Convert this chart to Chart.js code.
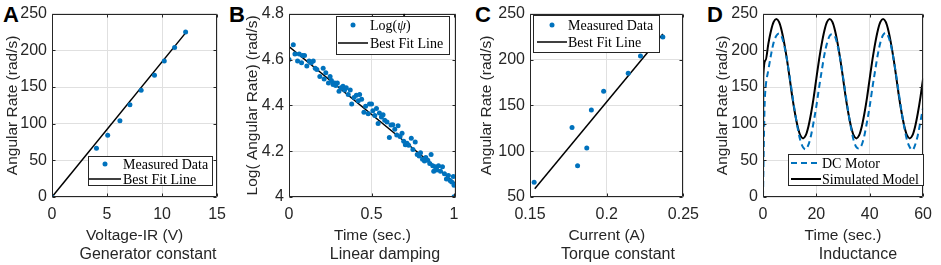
<!DOCTYPE html>
<html>
<head>
<meta charset="utf-8">
<script src="https://cdn.jsdelivr.net/npm/chart.js@4.4.1/dist/chart.umd.min.js"></script>
<style>
  body { margin: 0; background: #fff; width: 941px; height: 265px; position: relative; overflow: hidden;
         font-family: "Liberation Sans", Arial, sans-serif; color: #262626; }
  canvas { position: absolute; top: 0; }
  .letter { position: absolute; top: 4px; font: bold 22px/22px "Liberation Sans", Arial, sans-serif; color: #000; }
  .caption { position: absolute; top: 246px; font-size: 16px; line-height: 16px; white-space: nowrap; transform: translateX(-50%); }
</style>
</head>
<body>
<div class="letter" style="left:3px">A</div>
<div class="letter" style="left:229px">B</div>
<div class="letter" style="left:475px">C</div>
<div class="letter" style="left:707px">D</div>

<canvas id="chartGen" width="235" height="265" style="left:0px"></canvas>
<canvas id="chartDamp" width="232" height="265" style="left:240px"></canvas>
<canvas id="chartTorq" width="234" height="265" style="left:474px"></canvas>
<canvas id="chartInd" width="235" height="265" style="left:706px"></canvas>

<div class="caption" style="left:148px">Generator constant</div>
<div class="caption" style="left:385px">Linear damping</div>
<div class="caption" style="left:618px">Torque constant</div>
<div class="caption" style="left:858px">Inductance</div>

<script>
const SANS = '"Liberation Sans", Arial, sans-serif';
const SERIF = '"Liberation Serif", "DejaVu Serif", serif';
const INK = '#262626';
const BLUE = '#0072BD';

// A - generator constant
const genVolt = [0, 4.04, 5.06, 6.17, 7.08, 8.10, 9.31, 10.2, 11.14, 12.14];
const genRate = [0, 66.6, 84.4, 103.9, 126, 145.6, 166, 185.6, 204, 225];
const genFitVolt = [0, 12.14];
const genFitRate = [0, 224];
const genXTicks = [0, 5, 10, 15];
const genYTicks = [0, 50, 100, 150, 200, 250];

// B - linear damping
const dampTime = [0.000,0.026,0.036,0.052,0.062,0.076,0.082,0.094,0.108,0.122,
  0.135,0.147,0.159,0.169,0.187,0.207,0.213,0.223,0.239,0.249,
  0.257,0.267,0.277,0.283,0.293,0.303,0.315,0.327,0.337,0.347,
  0.359,0.371,0.380,0.394,0.408,0.420,0.428,0.440,0.454,0.464,
  0.480,0.488,0.500,0.508,0.520,0.530,0.540,0.548,0.560,0.570,
  0.580,0.594,0.608,0.618,0.629,0.641,0.653,0.661,0.673,0.685,
  0.695,0.705,0.715,0.725,0.741,0.751,0.765,0.777,0.789,0.797,
  0.809,0.821,0.829,0.841,0.853,0.861,0.871,0.877,0.886,0.896,
  0.906,0.918,0.930,0.942,0.954,0.966,0.976,0.986,0.996,1.000,
  1.010,1.000,1.016];
const dampLog = [4.600,4.665,4.625,4.594,4.625,4.586,4.618,4.618,4.572,4.594,
  4.586,4.594,4.562,4.557,4.526,4.562,4.515,4.543,4.498,4.526,
  4.509,4.491,4.498,4.487,4.498,4.462,4.477,4.484,4.467,4.477,
  4.448,4.467,4.406,4.434,4.444,4.420,4.448,4.427,4.370,4.396,
  4.363,4.406,4.406,4.377,4.356,4.387,4.321,4.367,4.349,4.359,
  4.335,4.328,4.260,4.314,4.316,4.296,4.271,4.311,4.264,4.278,
  4.243,4.228,4.235,4.226,4.257,4.207,4.240,4.186,4.179,4.193,
  4.165,4.157,4.172,4.160,4.146,4.186,4.136,4.112,4.132,4.118,
  4.136,4.112,4.132,4.101,4.079,4.094,4.072,4.065,4.089,4.051,
  4.055,4.001,4.058];
const dampFitTime = [0, 1.006];
const dampFitLog = [4.657, 4.061];
const dampXTicks = [0, 0.5, 1];
const dampYTicks = [4, 4.2, 4.4, 4.6, 4.8];

// C - torque constant
const torqCurrent = [0.1527, 0.1774, 0.181, 0.187, 0.190, 0.198, 0.214, 0.222, 0.2366];
const torqRate = [66, 126, 84, 103.6, 145, 165.5, 185, 204, 224.8];
const torqFitCurrent = [0.1531, 0.2366];
const torqFitRate = [59, 228];
const torqXTicks = [0.15, 0.2, 0.25];
const torqYTicks = [50, 100, 150, 200, 250];

// D - inductance
const motorTime = [0, 0.3, 0.6, 1, 2, 3, 4, 5, 6, 7, 8, 9, 10, 11, 12, 13, 14, 15, 16, 17, 18, 19, 20,
  21, 22, 23, 24, 25, 26, 27, 28, 29, 30, 31, 32, 33, 34, 35, 36, 37, 38, 39, 40,
  41, 42, 43, 44, 45, 46, 47, 48, 49, 50, 51, 52, 53, 54, 55, 56, 57, 58, 59, 60];
const motorRate = [0, 70, 125, 150, 173, 194, 211, 220, 223, 219, 206, 187, 164, 139, 115, 94, 77, 68, 65, 71, 84, 103, 124,
  149, 172, 194, 210, 220, 222, 219, 206, 187, 164, 139, 115, 94, 77, 68, 66, 71, 84, 103, 124,
  149, 172, 194, 211, 221, 224, 219, 206, 187, 164, 139, 115, 94, 77, 68, 64, 71, 84, 103, 122];
const simTime = [0, 0.1, 1, 2, 3, 4, 5, 6, 7, 8, 9, 10, 11, 12, 13, 14, 15, 16, 17, 18, 19, 20,
  21, 22, 23, 24, 25, 26, 27, 28, 29, 30, 31, 32, 33, 34, 35, 36, 37, 38, 39, 40,
  41, 42, 43, 44, 45, 46, 47, 48, 49, 50, 51, 52, 53, 54, 55, 56, 57, 58, 59, 60];
const simRate = [0, 164, 187, 209, 227, 239, 243, 239, 227, 209, 187, 162, 136, 114, 96, 84, 80, 84, 96, 114, 136, 162,
  187, 209, 227, 239, 243, 239, 227, 209, 187, 162, 136, 114, 96, 84, 80, 84, 96, 114, 136, 162,
  187, 209, 227, 239, 243, 239, 227, 209, 187, 162, 136, 114, 96, 84, 80, 84, 96, 114, 136, 162];
const indXTicks = [0, 20, 40, 60];
const indYTicks = [0, 50, 100, 150, 200, 250];

const pts = (xs, ys) => xs.map((x, i) => ({x: x, y: ys[i]}));

// box around plot + small inward ticks, like matlab
const frame = {
  id: 'frame',
  afterDatasetsDraw(chart) {
    const {ctx, chartArea: a, scales: {x, y}} = chart;
    const L = Math.round(a.left) + 0.5, T = Math.round(a.top) + 0.5;
    const R = Math.round(a.right) - 0.5, B = Math.round(a.bottom) - 0.5;
    ctx.save();
    ctx.strokeStyle = INK;
    ctx.lineWidth = 1;
    ctx.beginPath();
    x.ticks.forEach(t => {
      const p = Math.round(x.getPixelForValue(t.value)) + 0.5;
      ctx.moveTo(p, B); ctx.lineTo(p, B - 3);
      ctx.moveTo(p, T); ctx.lineTo(p, T + 3);
    });
    y.ticks.forEach(t => {
      const p = Math.round(y.getPixelForValue(t.value)) + 0.5;
      ctx.moveTo(L, p); ctx.lineTo(L + 3, p);
      ctx.moveTo(R, p); ctx.lineTo(R - 3, p);
    });
    ctx.rect(L, T, R - L, B - T);
    ctx.stroke();
    ctx.restore();
  }
};

// legend drawn inside the axes; a label may be split in parts [text, font, overlayDx]
function boxLegend(cfg) {
  return {
    id: 'boxLegend',
    afterDraw(chart) {
      const ctx = chart.ctx;
      const [bx, by, bw, bh] = cfg.box;
      ctx.save();
      ctx.fillStyle = '#fff';
      ctx.fillRect(bx, by, bw, bh);
      ctx.strokeStyle = INK;
      ctx.lineWidth = 1;
      ctx.strokeRect(bx + 0.5, by + 0.5, bw, bh);
      ctx.textBaseline = 'middle';
      cfg.rows.forEach((ry, i) => {
        const ds = chart.data.datasets[i];
        if (ds.showLine) {
          ctx.strokeStyle = ds.borderColor;
          ctx.lineWidth = ds.borderWidth;
          ctx.setLineDash(ds.borderDash || []);
          ctx.beginPath();
          ctx.moveTo(cfg.sample[0], ry);
          ctx.lineTo(cfg.sample[1], ry);
          ctx.stroke();
          ctx.setLineDash([]);
        } else {
          ctx.fillStyle = ds.backgroundColor;
          ctx.beginPath();
          ctx.arc((cfg.sample[0] + cfg.sample[1]) / 2, ry, ds.pointRadius, 0, Math.PI * 2);
          ctx.fill();
        }
        ctx.fillStyle = '#000';
        const parts = (cfg.parts && cfg.parts[i]) || [[ds.label, '14px ' + SERIF]];
        let tx = cfg.textX;
        parts.forEach(([txt, font, dx, dy]) => {
          ctx.font = font;
          if (dx !== undefined) {
            ctx.fillText(txt, tx + dx, ry + 1 + (dy || 0));
          } else {
            ctx.fillText(txt, tx, ry + 1);
            tx += ctx.measureText(txt).width;
          }
        });
      });
      ctx.restore();
    }
  };
}

function axis(min, max, ticks, title, size, tickPad, titlePad) {
  return {
    type: 'linear', min: min, max: max,
    afterBuildTicks: s => { s.ticks = ticks.map(v => ({value: v})); },
    afterFit: s => { if (s.isHorizontal()) s.height = size; else s.width = size; },
    grid: {color: '#e0e0e0', drawTicks: false},
    border: {display: false},
    ticks: {
      color: INK, padding: tickPad, maxRotation: 0, autoSkip: false,
      font: {family: SANS, size: 16, lineHeight: 1.1},
      callback: (v, i) => String(ticks[i])
    },
    title: {display: true, text: title, color: INK, font: {family: SANS, size: 15.5}, padding: titlePad}
  };
}

function scatter(label, xs, ys) {
  return {label: label, data: pts(xs, ys), showLine: false, backgroundColor: BLUE,
          pointRadius: 2.5, pointHoverRadius: 2.5, pointBorderWidth: 0};
}
function line(label, xs, ys, color, width, dash) {
  return {label: label, data: pts(xs, ys), showLine: true, borderColor: color, borderWidth: width,
          borderDash: dash || [], pointRadius: 0, cubicInterpolationMode: 'monotone', fill: false};
}

function makeChart(id, datasets, xAxis, yAxis, padRight, legend) {
  return new Chart(document.getElementById(id), {
    type: 'scatter',
    data: {datasets: datasets},
    options: {
      responsive: false, animation: false, devicePixelRatio: 1,
      layout: {padding: {top: 9, right: padRight, bottom: 0, left: 0}},
      plugins: {legend: {display: false}, tooltip: {enabled: false}},
      scales: {x: xAxis, y: yAxis}
    },
    plugins: [frame, boxLegend(legend)]
  });
}

const XPAD = 9, XTITLE = {top: 0, bottom: 20};
const PSI = 'italic 14px ' + SERIF;

makeChart('chartGen',
  [scatter('Measured Data', genVolt, genRate), line('Best Fit Line', genFitVolt, genFitRate, '#000', 1.5)],
  axis(0, 15, genXTicks, 'Voltage-IR (V)', 68, XPAD, XTITLE),
  axis(0, 250, genYTicks, 'Angular Rate (rad/s)', 52, 5, {top: 3, bottom: 0}),
  16, {box: [88, 156, 124, 29], rows: [164, 179], sample: [89, 121], textX: 123});

makeChart('chartDamp',
  [scatter('Log(ψ̇)', dampTime, dampLog), line('Best Fit Line', dampFitTime, dampFitLog, '#000', 1.5)],
  axis(0, 1.012, dampXTicks, 'Time (sec.)', 68, XPAD, XTITLE),
  axis(4, 4.8, dampYTicks, 'Log( Angular Rate) (rad/s)', 49, 5, {top: 3, bottom: 0}),
  16, {box: [96, 16, 113, 38], rows: [25, 43], sample: [98, 128], textX: 130,
       parts: [[['Log(', '14px ' + SERIF], ['˙', 'bold 14px ' + SERIF, 4.5, -6], ['ψ', PSI], [')', '14px ' + SERIF]]]});

makeChart('chartTorq',
  [scatter('Measured Data', torqCurrent, torqRate), line('Best Fit Line', torqFitCurrent, torqFitRate, '#000', 1.5)],
  axis(0.15, 0.25, torqXTicks, 'Current (A)', 68, XPAD, XTITLE),
  axis(50, 250, torqYTicks, 'Angular Rate (rad/s)', 56, 5, {top: 3, bottom: 0}),
  16, {box: [59, 15, 126, 37], rows: [25, 42], sample: [63, 93], textX: 94});

makeChart('chartInd',
  [line('DC Motor', motorTime, motorRate, BLUE, 2, [6, 4]), line('Simulated Model', simTime, simRate, '#000', 2)],
  axis(0, 60, indXTicks, 'Time (sec.)', 68, XPAD, XTITLE),
  axis(0, 250, indYTicks, 'Angular Rate (rad/s)', 57, 5, {top: 7, bottom: 0}),
  11, {box: [82, 154, 135, 31], rows: [163, 179], sample: [85, 115], textX: 116});
</script>
</body>
</html>
